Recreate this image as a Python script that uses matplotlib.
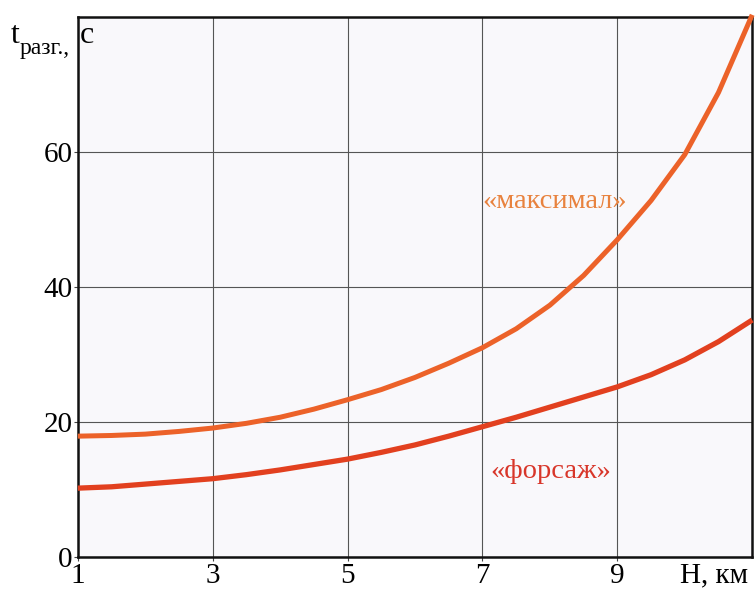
import matplotlib.pyplot as plt

# altitude, km
h_max = [1, 1.5, 2, 2.5, 3, 3.5, 4, 4.5, 5, 5.5, 6, 6.5, 7, 7.5, 8, 8.5, 9, 9.5, 10, 10.5, 11]
t_max = [17.9, 18.0, 18.2, 18.6, 19.1, 19.8, 20.7, 21.9, 23.3, 24.8, 26.6, 28.7, 31.0, 33.8, 37.3, 41.7, 47.0, 52.8, 59.6, 68.8, 80.3]

h_fors = [1, 1.5, 2, 2.5, 3, 3.5, 4, 4.5, 5, 5.5, 6, 6.5, 7, 7.5, 8, 8.5, 9, 9.5, 10, 10.5, 11]
t_fors = [10.2, 10.4, 10.8, 11.2, 11.6, 12.2, 12.9, 13.7, 14.5, 15.5, 16.6, 17.9, 19.3, 20.7, 22.2, 23.7, 25.2, 27.0, 29.2, 31.9, 35.1]

xticks = [1, 3, 5, 7, 9]
yticks = [0, 20, 40, 60]

plt.rcParams["font.family"] = ["Liberation Serif", "DejaVu Serif"]

fig = plt.figure(figsize=(7.56, 5.91), dpi=100)
ax = fig.add_axes([0.103, 0.0575, 0.892, 0.914])
ax.set_facecolor("#f9f8fb")

ax.plot(h_max, t_max, color="#ec6229", lw=3.6, solid_capstyle="butt",
        solid_joinstyle="round", clip_on=False, zorder=3)
ax.plot(h_fors, t_fors, color="#e2401f", lw=3.8, solid_capstyle="butt",
        solid_joinstyle="round", clip_on=False, zorder=3)

ax.set_xlim(1, 11)
ax.set_ylim(0, 80)
ax.set_xticks(xticks)
ax.set_yticks(yticks)
ax.tick_params(labelsize=21, length=3, width=0.8, color="#444444", pad=1)
ax.grid(True, color="#555555", lw=0.8)
for s in ax.spines.values():
    s.set_linewidth(1.8)
    s.set_color("#111111")

ax.text(8.07, 52.6, "«максимал»", color="#e8823e", fontsize=20.5, ha="center", va="center")
ax.text(8.01, 12.6, "«форсаж»", color="#d8362a", fontsize=20.5, ha="center", va="center")

# axis captions
fig.text(0.014, 0.927, "t", fontsize=23, ha="left", va="baseline")
fig.text(0.026, 0.908, "разг.,", fontsize=17, ha="left", va="baseline")
fig.text(0.105, 0.927, "c", fontsize=23, ha="left", va="baseline")
fig.text(0.945, 0.014, "H, км", fontsize=21, ha="center", va="baseline")

fig.savefig("out.png", dpi=100)
